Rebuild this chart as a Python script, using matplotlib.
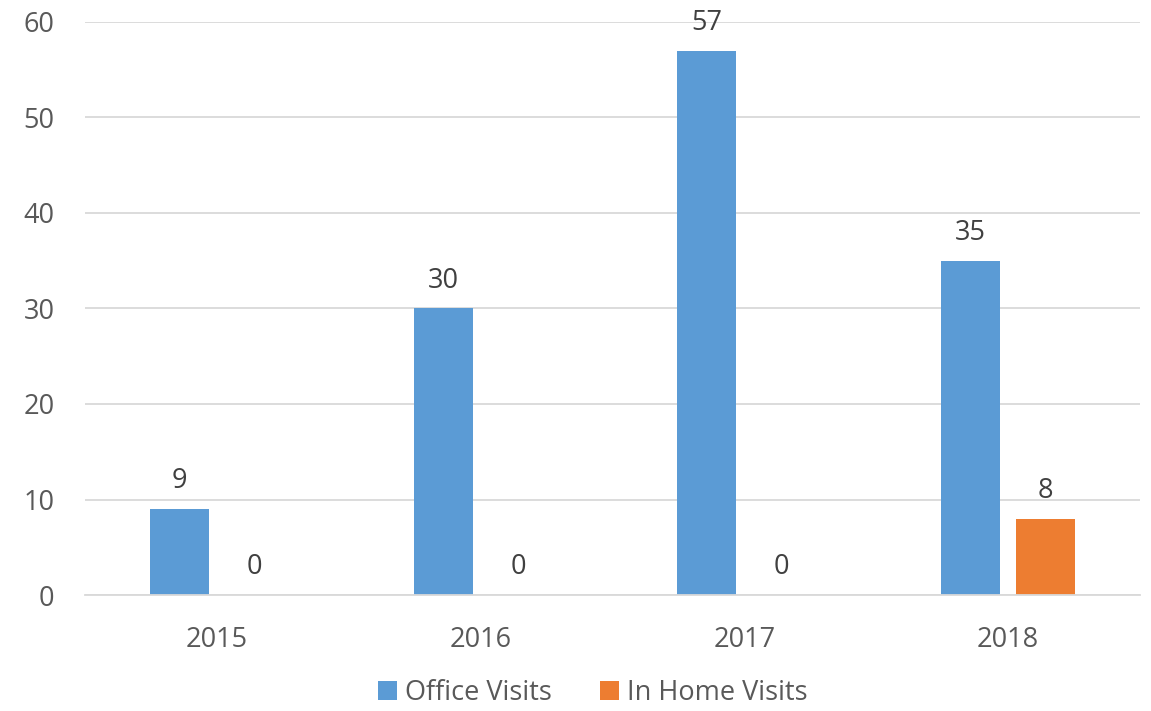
import matplotlib.pyplot as plt
import numpy as np

plt.rcParams["font.family"] = ["Open Sans", "DejaVu Sans"]

years = ["2015", "2016", "2017", "2018"]
office_visits = [9, 30, 57, 35]
home_visits = [0, 0, 0, 8]

BLUE = "#5b9bd5"
ORANGE = "#ed7d31"
TEXT = "#595959"

fig = plt.figure(figsize=(11.51, 7.11), dpi=100)
ax = fig.add_axes([85 / 1151, 1 - 595 / 711, 1055 / 1151, 573 / 711])

x = np.arange(len(years))
w = 0.224
off = 0.142
b1 = ax.bar(x - off, office_visits, w, color=BLUE, label="Office Visits", zorder=2)
b2 = ax.bar(x + off, home_visits, w, color=ORANGE, label="In Home Visits", zorder=2)

for bars in (b1, b2):
    for r in bars:
        h = r.get_height()
        ax.annotate(f"{h:g}", (r.get_x() + r.get_width() / 2, h),
                    xytext=(0, 10), textcoords="offset points",
                    ha="center", va="bottom", fontsize=19.5, color="#404040")

ax.set_xlim(-0.5, 3.5)
ax.set_ylim(0, 60)
ax.set_yticks(range(0, 61, 10))
ax.set_xticks(x)
ax.set_xticklabels(years)
ax.grid(axis="y", color="#d9d9d9", linewidth=1.3, zorder=0)
ax.set_axisbelow(True)
for s in ("top", "right", "left"):
    ax.spines[s].set_visible(False)
ax.spines["bottom"].set_color("#d9d9d9")
ax.spines["bottom"].set_linewidth(1.3)
ax.tick_params(axis="both", length=0, labelsize=19.5, labelcolor=TEXT)
ax.tick_params(axis="x", pad=22)
ax.tick_params(axis="y", pad=22)

fig.legend(handles=[b1, b2], loc="lower center", bbox_to_anchor=(0.515, -0.028),
           ncol=2, frameon=False, fontsize=19.5, labelcolor=TEXT,
           handlelength=0.7, handleheight=0.7, handletextpad=0.3,
           columnspacing=1.8)

fig.savefig("out.png", dpi=100)
